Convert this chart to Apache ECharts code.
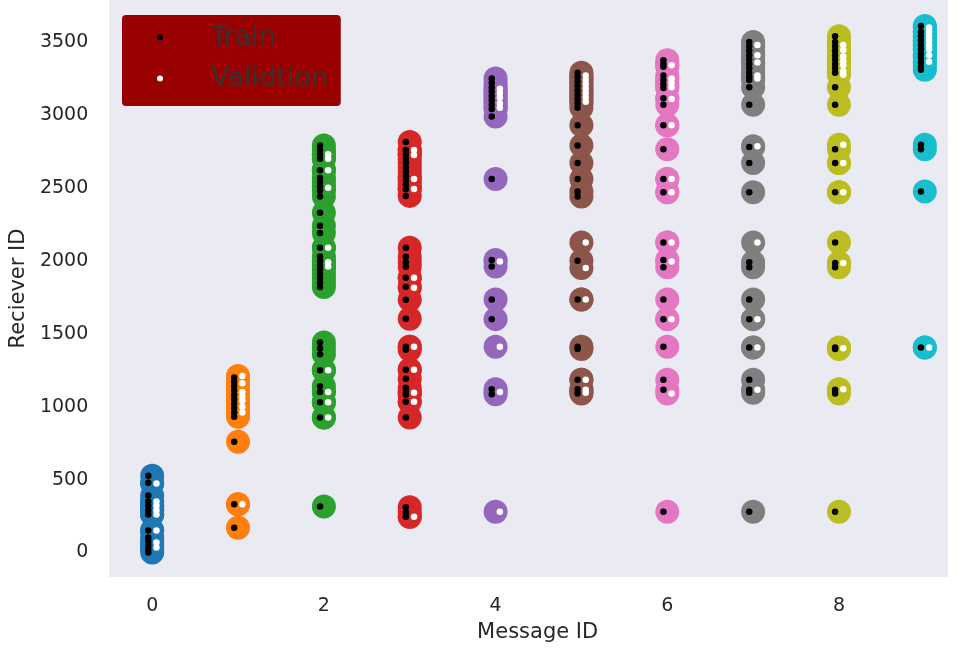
<!DOCTYPE html>
<html>
<head>
<meta charset="utf-8">
<script src="https://cdn.jsdelivr.net/npm/echarts@6/dist/echarts.min.js"></script>
<style>html,body{margin:0;padding:0;background:#fff}#c{width:958px;height:648px}</style>
</head>
<body>
<div id="c"></div>
<script>
const messageIds = [0, 1, 2, 3, 4, 5, 6, 7, 8, 9];
const xTicks = [0, 2, 4, 6, 8];
const yTicks = [0, 500, 1000, 1500, 2000, 2500, 3000, 3500];
const classColors = ['#1f77b4', '#ff7f0e', '#2ca02c', '#d62728', '#9467bd', '#8c564b', '#e377c2', '#7f7f7f', '#bcbd22', '#17becf'];

const train0 = [527, 479, 390, 350, 320, 290, 260, 151, 103, 75, 50, 25, 0];
const val0 = [473, 349, 320, 290, 260, 151, 68, 34];
const train1 = [1200, 1170, 1140, 1110, 1080, 1050, 1020, 990, 960, 930, 760, 330, 170];
const val1 = [1210, 1160, 1100, 1070, 1040, 1000, 960, 330];
const train2 = [2790, 2760, 2730, 2700, 2620, 2570, 2540, 2510, 2480, 2440, 2330, 2240, 2190, 2090, 2030, 2000, 1970, 1940, 1910, 1880, 1850, 1820, 1440, 1400, 1360, 1250, 1140, 1100, 1030, 925, 315];
const val2 = [2730, 2700, 2620, 2500, 2090, 1990, 1960, 1250, 1100, 1030, 925];
const train3 = [2815, 2760, 2730, 2700, 2670, 2640, 2610, 2580, 2550, 2520, 2490, 2445, 2090, 2027, 1990, 1959, 1883, 1822, 1733, 1603, 1411, 1390, 1253, 1192, 1130, 1100, 1082, 1034, 925, 310, 275, 245];
const val3 = [2760, 2726, 2561, 2493, 1883, 1815, 1411, 1253, 1096, 1034, 245];
const train4 = [3250, 3220, 3190, 3160, 3130, 3100, 3070, 3040, 2990, 2560, 2005, 1960, 1735, 1600, 1120, 1085];
const val4 = [3180, 3150, 3120, 3080, 3050, 1995, 1410, 1100, 280];
const train5 = [3290, 3260, 3230, 3200, 3170, 3140, 3110, 3080, 3050, 2930, 2790, 2670, 2560, 2475, 2440, 2000, 1735, 1410, 1395, 1185, 1120, 1090];
const val5 = [3270, 3240, 3210, 3180, 3150, 3120, 3090, 2125, 1950, 1735, 1185, 1115, 1095];
const train6 = [3375, 3350, 3330, 3270, 3240, 3210, 3185, 3115, 3070, 2930, 2765, 2560, 2470, 2125, 2005, 1955, 1735, 1600, 1410, 1185, 1115, 280];
const val6 = [3340, 3250, 3220, 3190, 3110, 2930, 2560, 2470, 2125, 1995, 1600, 1090];
const train7 = [3500, 3470, 3440, 3410, 3380, 3350, 3320, 3290, 3260, 3240, 3190, 3070, 2780, 2670, 2470, 1990, 1955, 1735, 1600, 1405, 1185, 1115, 1095, 280];
const val7 = [3480, 3410, 3360, 3270, 3250, 2785, 2125, 1600, 1405, 1115];
const train8 = [3540, 3500, 3470, 3440, 3410, 3380, 3350, 3320, 3290, 3190, 3070, 2765, 2670, 2470, 2125, 1985, 1955, 1405, 1395, 1115, 1090, 280];
const val8 = [3480, 3445, 3400, 3370, 3340, 3300, 3275, 2795, 2670, 2470, 1985, 1400, 1120];
const train9 = [3610, 3570, 3540, 3510, 3480, 3450, 3420, 3390, 3360, 3330, 3310, 2795, 2765, 2475, 1405];
const val9 = [3600, 3570, 3540, 3510, 3480, 3450, 3410, 3365, 1405];

const trainSets = [train0, train1, train2, train3, train4, train5, train6, train7, train8, train9];
const valSets = [val0, val1, val2, val3, val4, val5, val6, val7, val8, val9];

const TRAIN_SHIFT = -0.045, VAL_SHIFT = 0.05;
const txt = '#262626';
const series = [];
messageIds.forEach((m, i) => {
  const all = trainSets[i].concat(valSets[i]);
  series.push({
    type: 'scatter', name: 'class' + m, symbolSize: 24, silent: true,
    itemStyle: { color: classColors[i], opacity: 1 },
    data: all.map(v => [m, v]), z: 2
  });
});
const trainData = [], valData = [];
messageIds.forEach((m, i) => {
  trainSets[i].forEach(v => trainData.push([m + TRAIN_SHIFT, v]));
  valSets[i].forEach(v => valData.push([m + VAL_SHIFT, v]));
});
series.push({ type: 'scatter', name: 'Train', symbolSize: 6.5, itemStyle: { color: '#000', opacity: 1 }, data: trainData, z: 3 });
series.push({ type: 'scatter', name: 'Validtion', symbolSize: 6.5, itemStyle: { color: '#fff', opacity: 1 }, data: valData, z: 4 });

const chart = echarts.init(document.getElementById('c'), null, { renderer: 'canvas' });
chart.setOption({
  animation: false,
  textStyle: { fontFamily: 'DejaVu Sans' },
  grid: { left: 108, right: 10, top: 0, bottom: 70.5, show: true, backgroundColor: '#eaeaf2', borderWidth: 0 },
  legend: {
    data: ['Train', 'Validtion'], orient: 'vertical', left: 122, top: 15,
    backgroundColor: '#990000', borderRadius: 4, padding: [9, 13, 14, 35],
    itemWidth: 6, itemHeight: 6, itemGap: 14, selectedMode: false,
    textStyle: { fontSize: 27, color: '#333333', fontFamily: 'DejaVu Sans', padding: [0, 0, 0, 43] }
  },
  xAxis: {
    type: 'value', min: -0.5, max: 9.27,
    name: 'Message ID', nameLocation: 'middle', nameGap: 45,
    nameTextStyle: { fontSize: 21, color: txt, fontFamily: 'DejaVu Sans', padding: [0, 0, 0, 18] },
    axisLine: { show: false }, axisTick: { show: false }, splitLine: { show: false },
    axisLabel: { customValues: xTicks, fontSize: 19, color: txt, margin: 20, fontFamily: 'DejaVu Sans', formatter: v => String(v) }
  },
  yAxis: {
    type: 'value', min: -168, max: 3788,
    name: 'Reciever ID', nameLocation: 'middle', nameGap: 79,
    nameTextStyle: { fontSize: 21, color: txt, fontFamily: 'DejaVu Sans' },
    axisLine: { show: false }, axisTick: { show: false }, splitLine: { show: false },
    axisLabel: { customValues: yTicks, fontSize: 19, color: txt, margin: 21, fontFamily: 'DejaVu Sans', formatter: v => String(v) }
  },
  series: series
});
</script>
</body>
</html>
